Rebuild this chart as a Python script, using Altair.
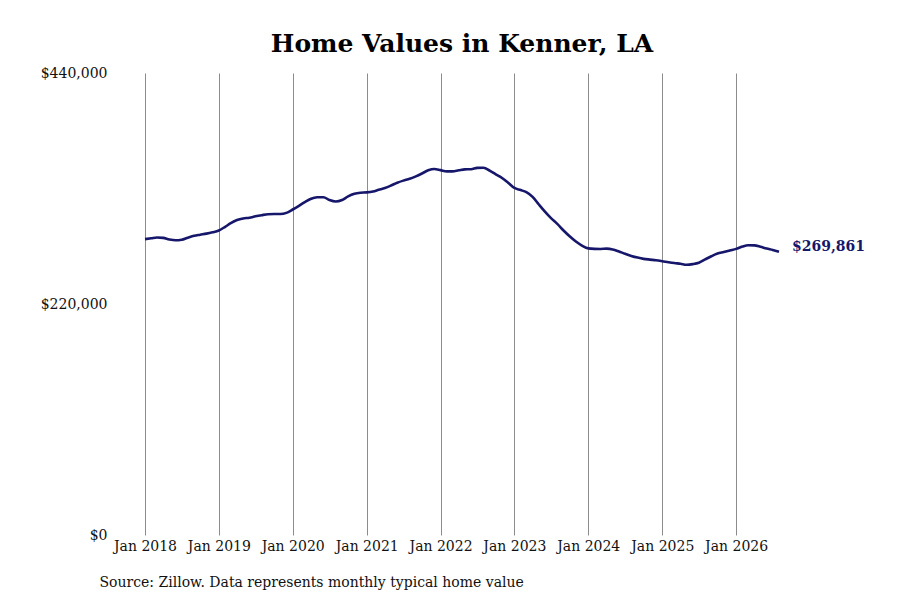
"""Home values line chart for Kenner, LA."""

import pandas as pd
import altair as alt

FONT = 'DejaVu Serif'
LINE_COLOR = '#16166b'

# Monthly typical home value, Jan 2018 .. Aug 2026
months = pd.date_range('2018-01-01', periods=104, freq='MS').strftime('%Y-%m-%dT00:00:00').tolist()
values = [
    281800, 282600, 283400, 283000, 281500, 280700, 281200, 283200, 285000, 286000, 287000, 288300,
    290000, 293500, 297000, 300000, 301500, 302200, 303500, 304600, 305500, 305700, 305700, 306800,
    310000, 313500, 317000, 320200, 321600, 321700, 319000, 317600, 319000, 322500, 325000, 326000,
    326300, 327200, 328800, 330500, 332800, 335500, 337500, 339200, 341600, 344300, 347300, 348600,
    347500, 346300, 346300, 347300, 348200, 348400, 349600, 349800, 347000, 343500, 340000, 335500,
    330500, 328500, 326500, 322000, 315000, 308000, 301800, 296300, 290000, 284500, 279500, 275700,
    273000, 272500, 272400, 272700, 272000, 270000, 267800, 265800, 264200, 263000, 262300, 261700,
    260800, 259800, 259000, 258300, 257400, 258000, 259300, 262500, 265500, 268000, 269500, 271000,
    272500, 274700, 276000, 275800, 274500, 272800, 271500, 269861,
]
y_ticks = [0, 220000, 440000]
title_text = 'Home Values in Kenner, LA'
source_text = 'Source: Zillow. Data represents monthly typical home value'

df = pd.DataFrame({'date': months, 'value': values})
df_last = df.tail(1)

x_enc = alt.X(
    'date:T',
    scale=alt.Scale(domain=[months[0], months[-1]]),
    axis=alt.Axis(
        format='%b %Y',
        tickCount={'interval': 'year', 'step': 1},
        labelOverlap=False,
        labelFlush=False,
        grid=True,
        gridColor='#8c8c8c',
        gridWidth=1,
        ticks=False,
        domain=False,
        labelPadding=4,
        labelFontSize=14,
        labelFont=FONT,
        labelColor='#111111',
        title=source_text,
        titleFont=FONT,
        titleFontSize=14,
        titleFontWeight='normal',
        titleColor='#111111',
        titleAlign='left',
        titleAnchor='start',
        titleBaseline='middle',
        titleX=-46,
        titleY=47,
    ),
)
y_enc = alt.Y(
    'value:Q',
    scale=alt.Scale(domain=[0, 440000], nice=False),
    axis=alt.Axis(
        values=y_ticks,
        format='$,.0f',
        grid=False,
        ticks=False,
        domain=False,
        labelPadding=38,
        labelFontSize=14,
        labelFont=FONT,
        labelColor='#111111',
        labelBaseline='middle',
        title=None,
    ),
)

line = alt.Chart(df).mark_line(color=LINE_COLOR, strokeWidth=2.6, interpolate='monotone').encode(
    x=x_enc, y=y_enc
)

end_label = alt.Chart(df_last).mark_text(
    align='left', baseline='middle', dx=13, dy=-5, font=FONT, fontSize=14, fontWeight='bold', color=LINE_COLOR
).encode(
    x='date:T', y='value:Q', text=alt.Text('value:Q', format='$,.0f')
)

chart = (
    alt.layer(line, end_label)
    .properties(
        width=634,
        height=462,
        background='white',
        title=alt.TitleParams(
            text=title_text,
            font=FONT,
            fontSize=25,
            fontWeight='bold',
            color='#000000',
            anchor='middle',
            offset=9,
        ),
        autosize=alt.AutoSizeParams(type='none'),
        padding={'left': 137, 'top': 65, 'right': 113, 'bottom': 57},
    )
    .configure_view(strokeWidth=0, stroke='transparent')
)

chart.save('out.html', embed_options={'renderer': 'svg', 'actions': False})
